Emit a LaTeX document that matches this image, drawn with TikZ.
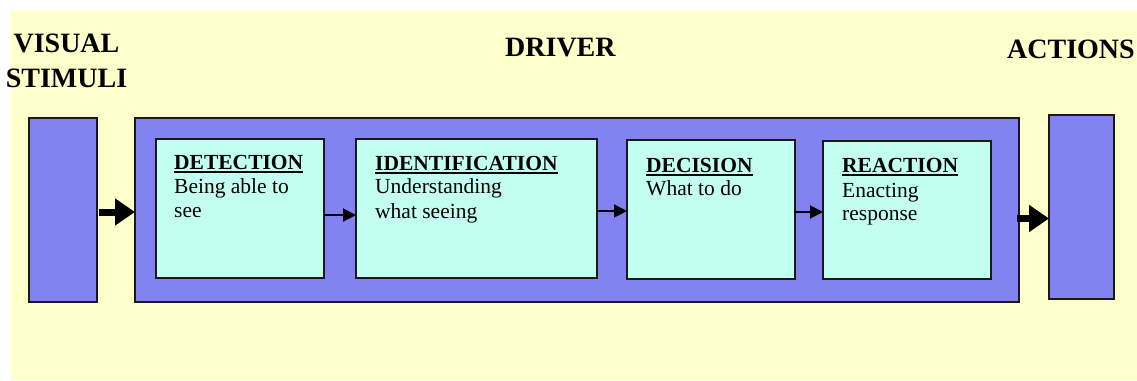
\documentclass[tikz,border=0pt]{standalone}
\usepackage{fontspec}
\setmainfont{Liberation Serif}
\usetikzlibrary{arrows.meta,calc}

\definecolor{panel}{HTML}{FFFFCC}
\definecolor{stagebg}{HTML}{8282F0}
\definecolor{stepbg}{HTML}{C2FFF0}

% bold heading with a thick rule under it
\newcommand\headrule[1]{\setbox0\hbox{#1}\rlap{\rule[-4pt]{\wd0}{2pt}}\box0}

\tikzset{
  bluebox/.style={draw=black!90, line width=1.3pt, fill=stagebg, inner sep=0pt, outer sep=0pt, anchor=north west},
  stepbox/.style={draw=black!90, line width=1.4pt, fill=stepbg, inner sep=0pt, outer sep=0pt, anchor=north west},
  heading/.style={inner sep=0pt, font=\fontsize{28}{30}\selectfont\bfseries},
  steptitle/.style={inner sep=0pt, anchor=base west, font=\fontsize{21.5}{24}\selectfont\bfseries},
  steptext/.style={inner sep=0pt, anchor=base west, font=\fontsize{21.5}{24}\selectfont},
  bigarrow/.style={line width=7pt, -{Triangle[length=20pt,width=26pt]}},
  smallarrow/.style={line width=2pt, -{Triangle[length=13pt,width=13pt]}},
}

\begin{document}
\begin{tikzpicture}[x=1pt,y=-1pt]
\useasboundingbox (0,0) rectangle (1137,380);
\fill[panel] (11,11) rectangle (1137,380);

% column headings
\node[heading, anchor=base] (hv) at (66.5,52) {VISUAL};
\node[heading, anchor=base] (hs) at (66.5,87) {STIMULI};
\node[heading, anchor=base west] (hd) at (505,56) {DRIVER};
\node[heading, anchor=base west] (ha) at (1007,58) {ACTIONS};

% outer blocks
\node[bluebox, minimum width=68pt, minimum height=184pt] (stim) at (29,118) {};
\node[bluebox, minimum width=884pt, minimum height=184pt] (drv) at (135,118) {};
\node[bluebox, minimum width=65pt, minimum height=184pt] (act) at (1049,115) {};

% processing stages
\node[stepbox, minimum width=168pt, minimum height=139pt] (det) at (156,139) {};
\node[stepbox, minimum width=241pt, minimum height=139pt] (ident) at (356,139) {};
\node[stepbox, minimum width=168pt, minimum height=139pt] (dec) at (627,140) {};
\node[stepbox, minimum width=168pt, minimum height=138pt] (rea) at (823,141) {};

% stage texts
\node[steptitle] (t1) at ($(det.north west)+(18,30)$) {\headrule{DETECTION}};
\node[steptext] (b1a) at ($(det.north west)+(18,54)$) {Being able to};
\node[steptext] (b1b) at ($(det.north west)+(18,78)$) {see};

\node[steptitle] (t2) at ($(ident.north west)+(19,31)$) {\headrule{IDENTIFICATION}};
\node[steptext] (b2a) at ($(ident.north west)+(19,54)$) {Understanding};
\node[steptext] (b2b) at ($(ident.north west)+(19,79)$) {what seeing};

\node[steptitle] (t3) at ($(dec.north west)+(19,32)$) {\headrule{DECISION}};
\node[steptext] (b3a) at ($(dec.north west)+(19,55)$) {What to do};

\node[steptitle] (t4) at ($(rea.north west)+(19,31)$) {\headrule{REACTION}};
\node[steptext] (b4a) at ($(rea.north west)+(19,56)$) {Enacting};
\node[steptext] (b4b) at ($(rea.north west)+(19,79)$) {response};

% flow arrows
\draw[bigarrow] ($(stim.east |- 0,212)+(2,0)$) -- (drv.west |- 0,212);
\draw[bigarrow] ($(drv.east |- 0,218.5)+(-2,0)$) -- (act.west |- 0,218.5);
\draw[smallarrow] (det.east |- 0,215) -- (ident.west |- 0,215);
\draw[smallarrow] (ident.east |- 0,211) -- (dec.west |- 0,211);
\draw[smallarrow] (dec.east |- 0,212) -- (rea.west |- 0,212);
\end{tikzpicture}
\end{document}
